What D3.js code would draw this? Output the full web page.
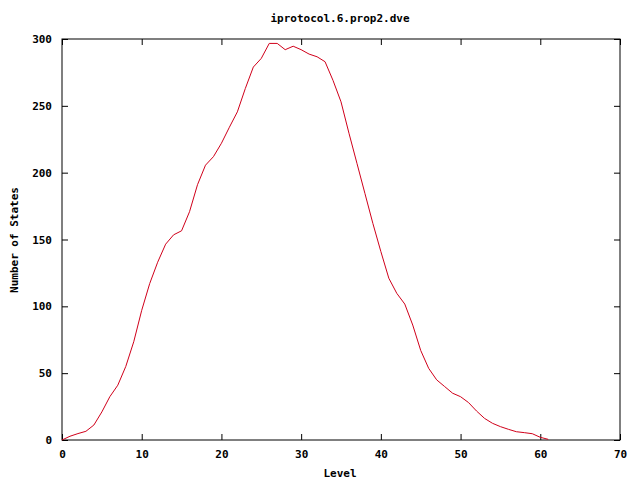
<!DOCTYPE html>
<html>
<head>
<meta charset="utf-8">
<script src="https://cdnjs.cloudflare.com/ajax/libs/d3/7.8.5/d3.min.js"></script>
<style>
  body { margin: 0; background: #fff; }
  text { font-family: "DejaVu Sans Mono", "Liberation Mono", monospace; font-size: 11px; font-weight: bold; fill: #000; }
</style>
</head>
<body>
<svg id="chart" width="640" height="480"></svg>
<script>
// levels 0..61, states per level
var levels = d3.range(0, 62);
var states = [
  0, 2.8, 4.8, 6.5, 11.2, 21, 32.4, 41, 55, 73.5,
  97, 117, 133, 146.5, 153.5, 156.5, 170.8, 191, 205.6, 212,
  222, 234, 245.5, 263, 279, 285.5, 296.7, 296.7, 292, 294.6,
  292, 288.7, 286.7, 283, 269, 253, 229.5, 207, 184.5, 162,
  141, 121, 109.7, 101.7, 86, 67, 53.6, 45, 40, 35,
  32.4, 28, 21.7, 16.2, 12.5, 10, 8, 6.2, 5.5, 4.7,
  2, 0.5
];
var xTicks = [0, 10, 20, 30, 40, 50, 60, 70];
var yTicks = [0, 50, 100, 150, 200, 250, 300];

(function () {
  var svg = d3.select('#chart');
  var plotLeft = 62, plotRight = 620, plotTop = 39, plotBottom = 440;

  var x = d3.scaleLinear().domain([0, 70]).range([plotLeft, plotRight]);
  var y = d3.scaleLinear().domain([0, 300]).range([plotBottom, plotTop]);

  // ticks mirrored on all four sides, pointing inward
  svg.append('g')
    .attr('transform', 'translate(0,' + plotBottom + ')')
    .call(d3.axisBottom(x).tickValues(xTicks).tickSize(-6).tickPadding(10).tickFormat(d3.format('d')));
  svg.append('g')
    .attr('transform', 'translate(0,' + plotTop + ')')
    .call(d3.axisTop(x).tickValues(xTicks).tickSize(-6).tickFormat(''));
  svg.append('g')
    .attr('transform', 'translate(' + plotLeft + ',0)')
    .call(d3.axisLeft(y).tickValues(yTicks).tickSize(-6).tickPadding(10).tickFormat(d3.format('d')));
  svg.append('g')
    .attr('transform', 'translate(' + plotRight + ',0)')
    .call(d3.axisRight(y).tickValues(yTicks).tickSize(-6).tickFormat(''));

  svg.selectAll('.domain').remove();
  svg.selectAll('.tick line').attr('stroke', '#000');
  svg.selectAll('.tick text')
    .style('font-family', '"DejaVu Sans Mono", monospace')
    .style('font-size', '11px')
    .style('font-weight', 'bold');

  svg.append('rect')
    .attr('x', plotLeft).attr('y', plotTop)
    .attr('width', plotRight - plotLeft).attr('height', plotBottom - plotTop)
    .attr('fill', 'none').attr('stroke', '#000').attr('stroke-width', 1);

  var line = d3.line()
    .x(function (d, i) { return x(levels[i]); })
    .y(function (d) { return y(d); });

  svg.append('path')
    .datum(states)
    .attr('d', line)
    .attr('fill', 'none')
    .attr('stroke', '#d0001a')
    .attr('stroke-width', 1);

  svg.append('text')
    .attr('x', 340).attr('y', 22)
    .attr('text-anchor', 'middle')
    .text('iprotocol.6.prop2.dve');

  svg.append('text')
    .attr('x', 340).attr('y', 477)
    .attr('text-anchor', 'middle')
    .text('Level');

  svg.append('text')
    .attr('transform', 'translate(18,240) rotate(-90)')
    .attr('text-anchor', 'middle')
    .text('Number of States');
})();
</script>
</body>
</html>
